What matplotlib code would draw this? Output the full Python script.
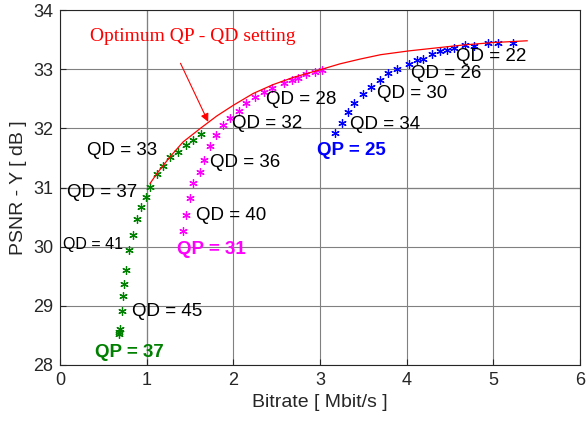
import matplotlib
matplotlib.use('Agg')
import matplotlib.pyplot as plt

# QP = 25 operating points (bitrate in Mbit/s, PSNR-Y in dB)
qp25_rate = [3.17, 3.25, 3.32, 3.39, 3.50, 3.59, 3.69, 3.78, 3.89, 4.03, 4.12,
             4.19, 4.29, 4.39, 4.46, 4.55, 4.67, 4.78, 4.94, 5.05, 5.23]
qp25_psnr = [31.92, 32.09, 32.28, 32.42, 32.58, 32.70, 32.82, 32.93, 33.00, 33.08, 33.15,
             33.17, 33.25, 33.30, 33.32, 33.35, 33.41, 33.40, 33.44, 33.45, 33.45]

# QP = 31
qp31_rate = [1.42, 1.45, 1.50, 1.54, 1.61, 1.66, 1.73, 1.80, 1.88, 1.96, 2.07,
             2.15, 2.25, 2.35, 2.45, 2.59, 2.68, 2.75, 2.84, 2.94, 3.02]
qp31_psnr = [30.26, 30.54, 30.83, 31.07, 31.27, 31.47, 31.71, 31.88, 32.05, 32.17, 32.29,
             32.42, 32.53, 32.62, 32.69, 32.77, 32.82, 32.85, 32.92, 32.95, 32.99]

# QP = 37
qp37_rate = [0.68, 0.68, 0.69, 0.71, 0.73, 0.74, 0.76, 0.80, 0.84, 0.89, 0.93,
             0.99, 1.04, 1.12, 1.19, 1.27, 1.36, 1.45, 1.54, 1.63]
qp37_psnr = [28.52, 28.55, 28.61, 28.92, 29.17, 29.37, 29.60, 29.95, 30.19, 30.47, 30.67,
             30.84, 31.01, 31.23, 31.37, 31.51, 31.60, 31.72, 31.80, 31.91]

# envelope of best QP/QD combinations
opt_rate = [1.04, 1.12, 1.27, 1.42, 1.62, 1.81, 2.00, 2.23, 2.46, 2.69, 3.00, 3.23,
            3.46, 3.70, 4.03, 4.66, 5.00, 5.39]
opt_psnr = [31.07, 31.24, 31.52, 31.77, 32.00, 32.21, 32.39, 32.59, 32.74, 32.86, 32.99, 33.09,
            33.17, 33.245, 33.31, 33.41, 33.45, 33.48]

# (text, x, y, size)
qd_labels = [('QD = 22', 4.57, 33.21, 13.5), ('QD = 26', 4.05, 32.92, 13.5),
             ('QD = 30', 3.66, 32.59, 13.5), ('QD = 34', 3.35, 32.06, 13.5),
             ('QD = 28', 2.38, 32.48, 13.5), ('QD = 32', 1.99, 32.09, 13.5),
             ('QD = 36', 1.73, 31.43, 13.5), ('QD = 40', 1.57, 30.52, 13.5),
             ('QD = 33', 0.31, 31.63, 13.5), ('QD = 37', 0.08, 30.92, 13.5),
             ('QD = 41', 0.03, 30.03, 11.5), ('QD = 45', 0.83, 28.90, 13.5)]
qp_labels = [('QP = 25', 2.96, 31.63, 'blue'), ('QP = 31', 1.35, 29.96, 'magenta'),
             ('QP = 37', 0.40, 28.21, 'green')]

plt.rcParams['font.family'] = ['Liberation Sans', 'DejaVu Sans']
fig = plt.figure(figsize=(5.86, 4.28), dpi=100)
ax = fig.add_axes([0.1024, 0.1472, 0.8874, 0.8294])

ax.set_xlim(0, 6)
ax.set_ylim(28, 34)
ax.grid(True, color='#808080', linewidth=0.8)
ax.axvline(1, color='black', linewidth=0.8, zorder=1)
ax.axhline(31, color='black', linewidth=0.8, zorder=1)

star = dict(linestyle='none', marker=(6, 2, 0), markersize=6, markeredgewidth=0.9)
ax.plot(qp25_rate, qp25_psnr, color='blue', **star)
ax.plot(qp31_rate, qp31_psnr, color='magenta', **star)
ax.plot(qp37_rate, qp37_psnr, color='green', **star)
ax.plot(opt_rate, opt_psnr, color='red', linewidth=0.9)

for txt, x, y, s in qd_labels:
    ax.text(x, y, txt, fontsize=s, ha='left', va='center', color='black')
for txt, x, y, c in qp_labels:
    ax.text(x, y, txt, fontsize=13.5, fontweight='bold', ha='left', va='center', color=c)

ax.text(0.35, 33.55, 'Optimum QP - QD setting', fontsize=14, family='Liberation Serif',
        color='red', ha='left', va='center')
ax.annotate('', xy=(1.71, 32.11), xytext=(1.39, 33.10),
            arrowprops=dict(arrowstyle='-|>', color='red', lw=0.8, shrinkA=0, shrinkB=0,
                            mutation_scale=12))

ax.set_xticks(range(0, 7))
ax.set_yticks(range(28, 35))
ax.tick_params(direction='in', length=4, labelsize=13, colors='#262626', pad=5)
for sp in ax.spines.values():
    sp.set_color('#262626')
ax.set_xlabel('Bitrate [ Mbit/s ]', fontsize=14, color='#262626')
ax.set_ylabel('PSNR - Y [ dB ]', fontsize=14, color='#262626')

fig.savefig('out.png', dpi=100)
